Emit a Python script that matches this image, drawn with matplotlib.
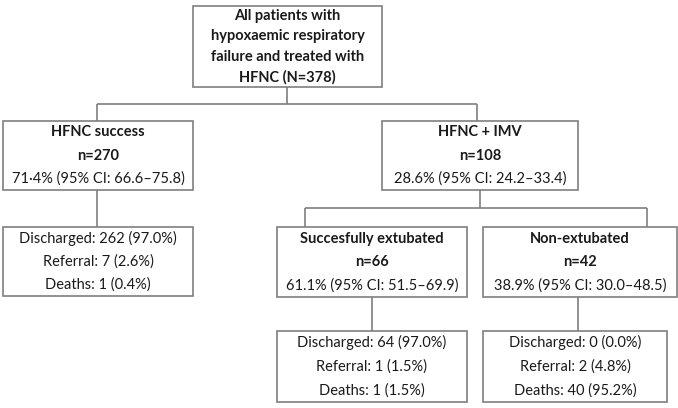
import matplotlib
matplotlib.use("Agg")
import matplotlib.pyplot as plt
from matplotlib.patches import Rectangle

plt.rcParams["font.family"] = ["Lato", "DejaVu Sans"]

# box texts (first line(s) bold where marked)
top_lines = ["All patients with", "hypoxaemic respiratory", "failure and treated with", "HFNC (N=378)"]
success_lines = ["HFNC success", "n=270", "71·4% (95% CI: 66.6–75.8)"]
imv_lines = ["HFNC + IMV", "n=108", "28.6% (95% CI: 24.2–33.4)"]
extub_lines = ["Succesfully extubated", "n=66", "61.1% (95% CI: 51.5–69.9)"]
nonext_lines = ["Non-extubated", "n=42", "38.9% (95% CI: 30.0–48.5)"]
success_out = ["Discharged: 262 (97.0%)", "Referral: 7 (2.6%)", "Deaths: 1 (0.4%)"]
extub_out = ["Discharged: 64 (97.0%)", "Referral: 1 (1.5%)", "Deaths: 1 (1.5%)"]
nonext_out = ["Discharged: 0 (0.0%)", "Referral: 2 (4.8%)", "Deaths: 40 (95.2%)"]

fig = plt.figure(figsize=(6.78, 4.08), dpi=100)
ax = fig.add_axes([0, 0, 1, 1])
ax.set_xlim(0, 678)
ax.set_ylim(408, 0)
ax.axis("off")

edge = "#7f7f7f"


def box(x0, y0, x1, y1, lines, nbold, fs=10.5):
    ax.add_patch(Rectangle((x0, y0), x1 - x0, y1 - y0, fill=False, ec=edge, lw=1.2))
    n = len(lines)
    h = y1 - y0
    step = h / n
    for i, t in enumerate(lines):
        ax.text((x0 + x1) / 2, y0 + step * (i + 0.5), t, ha="center", va="center",
                fontsize=fs, fontweight="bold" if i < nbold else "normal", color="#1a1a1a")


def line(xs, ys):
    ax.plot(xs, ys, color=edge, lw=1.2, solid_capstyle="butt")


box(193, 6, 382, 87, top_lines, 4)
box(3, 121, 193, 190, success_lines, 2)
box(382, 121, 578, 190, imv_lines, 2)
box(3, 227, 193, 296, success_out, 0)
box(277, 227, 467, 297, extub_lines, 2)
box(483, 227, 677, 297, nonext_lines, 2)
box(277, 331, 467, 402, extub_out, 0)
box(483, 331, 667, 402, nonext_out, 0)

line([287, 287], [87, 104])
line([97, 477], [104, 104])
line([97, 97], [104, 121])
line([477, 477], [104, 121])
line([97, 97], [190, 227])
line([480, 480], [190, 208])
line([305, 647], [208, 208])
line([305, 305], [208, 227])
line([647, 647], [208, 227])
line([372, 372], [297, 331])
line([578, 578], [297, 331])

fig.savefig("out.png", dpi=100)
